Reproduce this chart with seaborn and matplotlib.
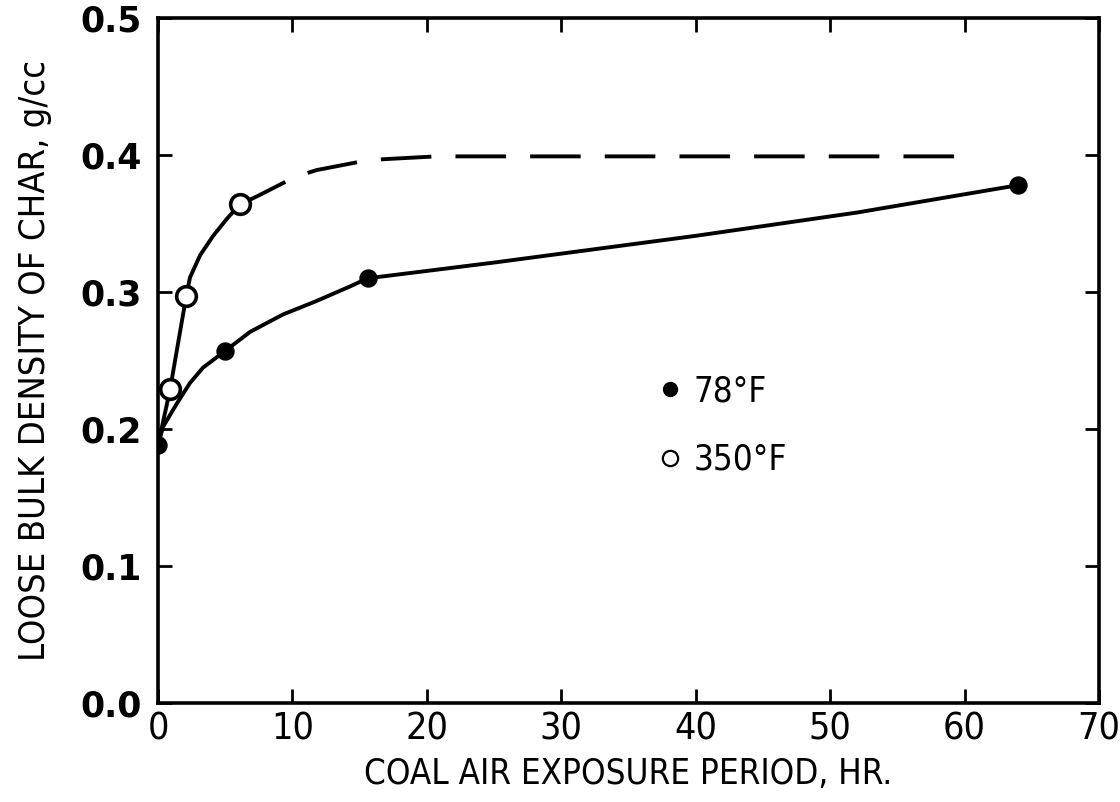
import matplotlib
matplotlib.use("Agg")
import matplotlib.pyplot as plt
from matplotlib import font_manager
from matplotlib.font_manager import FontProperties
from matplotlib.lines import Line2D
import seaborn as sns

# Measured char densities (g/cc) vs. hours of air exposure of the coal
hours_78 = [0.0, 5.0, 15.6, 64.0]
density_78 = [0.188, 0.257, 0.310, 0.378]
hours_350 = [0.9, 2.1, 6.1]
density_350 = [0.229, 0.297, 0.364]

# Hand-drawn trend curves through the measurements
curve_78_x = [0.0, 0.37, 1.41, 2.38, 3.35, 5.0, 6.85, 9.3, 11.76, 14.2, 15.6, 25.0, 40.0, 52.0, 64.0]
curve_78_y = [0.188, 0.2015, 0.2187, 0.2336, 0.2448, 0.257, 0.2709, 0.2836, 0.2933, 0.3037,
              0.310, 0.3215, 0.341, 0.358, 0.378]
curve_350_x = [0.0, 0.9, 2.1, 2.38, 3.13, 4.09, 5.13, 6.1]
curve_350_y = [0.188, 0.229, 0.297, 0.3106, 0.3268, 0.3408, 0.3535, 0.364]
# Extrapolated 350°F trend (dashed)
dash_350_x = [6.1, 7.4, 10.2, 11.8, 15.5, 16.9, 20.7, 60.6]
dash_350_y = [0.364, 0.370, 0.384, 0.389, 0.396, 0.397, 0.399, 0.399]

x_ticks = [0, 10, 20, 30, 40, 50, 60, 70]
y_ticks = [0.0, 0.1, 0.2, 0.3, 0.4, 0.5]
y_tick_labels = ["0.0", "0.1", "0.2", "0.3", "0.4", "0.5"]
series_labels = ["78°F", "350°F"]

sns.set_theme(style="ticks")
plt.rcParams["font.family"] = ["DejaVu Sans"]
plt.rcParams["text.color"] = "black"
plt.rcParams["axes.labelcolor"] = "black"


def narrow_font(size):
    """Pick a condensed sans face if one is installed, else DejaVu Sans."""
    cands = []
    for f in font_manager.fontManager.ttflist:
        name = f.name.lower()
        path = f.fname.lower()
        narrow = ("narrow" in name or "condensed" in name or "narrow" in path
                  or "condensed" in path or f.stretch in ("condensed", "semi-condensed",
                                                          "extra-condensed"))
        if not narrow or "mono" in name or "serif" in name.replace("sans", ""):
            continue
        if f.style != "normal":
            continue
        score = 0
        if f.weight in (400, "normal", "regular"):
            score += 2
        if "semi" in path:
            score -= 1
        if "extra" in path or "ultra" in path:
            score -= 2
        cands.append((score, f.fname))
    if cands:
        cands.sort(key=lambda c: -c[0])
        return FontProperties(fname=cands[0][1], size=size)
    return FontProperties(family="DejaVu Sans", stretch="condensed", size=size)


fig = plt.figure(figsize=(11.2, 8.02), dpi=100)
ax = fig.add_axes([158 / 1120, 1 - 703 / 802, (1099 - 158) / 1120, (703 - 18) / 802])

lw = 2.8
sns.lineplot(x=curve_78_x, y=curve_78_y, ax=ax, color="black", lw=lw, sort=False,
             estimator=None)
sns.lineplot(x=curve_350_x, y=curve_350_y, ax=ax, color="black", lw=lw, sort=False,
             estimator=None)
sns.lineplot(x=dash_350_x, y=dash_350_y, ax=ax, color="black", lw=lw, sort=False,
             estimator=None)
ax.lines[-1].set_dashes([13, 6.2])

sns.scatterplot(x=hours_78, y=density_78, ax=ax, s=150, color="black",
                edgecolor="black", zorder=5)
sns.scatterplot(x=hours_350, y=density_350, ax=ax, s=200, facecolor="white",
                edgecolor="black", linewidth=2.6, zorder=5)

ax.set_xlim(0, 70)
ax.set_ylim(0, 0.5)
ax.set_xticks(x_ticks)
ax.set_xticklabels([str(t) for t in x_ticks], fontproperties=narrow_font(27))
ax.set_yticks(y_ticks)
ax.set_yticklabels(y_tick_labels, fontsize=25, fontweight="bold", family="DejaVu Sans")

for side in ["top", "right", "bottom", "left"]:
    ax.spines[side].set_visible(True)
    ax.spines[side].set_linewidth(2.6)
    ax.spines[side].set_color("black")
ax.tick_params(direction="in", length=10, width=2.0, top=True, right=True,
               labeltop=False, labelright=False, colors="black")
ax.tick_params(axis="x", pad=6)
ax.tick_params(axis="y", pad=12)

ax.set_xlabel("COAL AIR EXPOSURE PERIOD, HR.", fontproperties=narrow_font(25), labelpad=7)
ax.set_ylabel("LOOSE BULK DENSITY OF CHAR, g/cc", fontproperties=narrow_font(26),
              labelpad=20)

handles = [
    Line2D([], [], ls="none", marker="o", ms=10, mfc="black", mec="black"),
    Line2D([], [], ls="none", marker="o", ms=11, mfc="white", mec="black", mew=1.6),
]
ax.legend(handles, series_labels, loc="center left", bbox_to_anchor=(0.492, 0.405),
          frameon=False, prop=narrow_font(25), handletextpad=0.2, labelspacing=1.0,
          handlelength=1.0)

fig.savefig("out.png", dpi=100)
